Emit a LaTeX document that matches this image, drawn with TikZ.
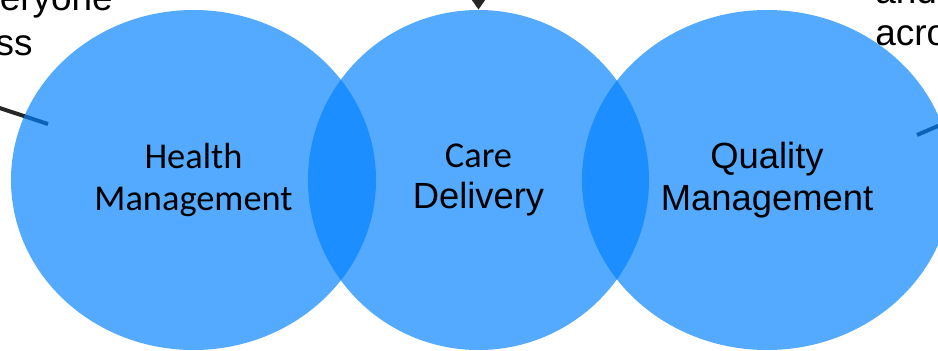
\documentclass[tikz,border=0pt]{standalone}
\usepackage{fontspec}
\setmainfont{Liberation Sans}
\newfontfamily\calibrifont{Carlito}
\usetikzlibrary{shapes.geometric,arrows.meta,backgrounds}

\definecolor{vennblue}{RGB}{0,128,255}
\definecolor{leadgray}{RGB}{38,38,38}

\tikzset{
  venn/.style={ellipse, fill=vennblue, fill opacity=0.67, text opacity=1, inner sep=0pt,
    align=center, minimum height=6.8cm, font=\fontsize{20.7}{23.5}\selectfont},
  lead/.style={leadgray, line width=2.25pt},
  cuttext/.style={inner sep=0pt, font=\fontsize{21}{25}\selectfont}
}

\begin{document}
\begin{tikzpicture}
    \useasboundingbox (0,0) rectangle (18.76,7);
    \clip (0,0) rectangle (18.76,7);

    % The three circles
    \node[venn, minimum width=7.3cm] (health) at (3.87,3.4) {{\calibrifont Health}\\{\calibrifont Management}};
    \node[venn, minimum width=6.82cm] (care) at (9.57,3.4) {{\calibrifont Care}\\Delivery};
    \node[venn, minimum width=7.4cm] (quality) at (15.34,3.4) {Quality\\Management};

    % Text cut off at the edges
    \node[cuttext, anchor=base east] (lftTop) at (2.26,6.8) {eryone};
    \node[cuttext, anchor=base east] (lftBot) at (0.66,5.9) {ss};
    \node[cuttext, anchor=base west] (rgtTop) at (17.5,6.94) {and};
    \node[cuttext, anchor=base west] (rgtBot) at (17.5,6.1) {acro};

    % Leader lines, under the circles
    \begin{pgfonlayer}{background}
        \clip (0,0) rectangle (18.76,7);
        \coordinate (lftFree) at (-0.4,4.97);
        \coordinate (lftEnd) at (0.96,4.52);
        \coordinate (rgtFree) at (19.2,4.67);
        \coordinate (rgtEnd) at (18.34,4.3);
        \coordinate (topFree) at (9.57,7.6);
        \draw[lead] (lftFree) -- (lftEnd);
        \draw[lead] (rgtFree) -- (rgtEnd);
        \draw[lead, -{Triangle[width=0.34cm, length=0.26cm]}] (topFree) -- (care.north);
    \end{pgfonlayer}
\end{tikzpicture}
\end{document}
